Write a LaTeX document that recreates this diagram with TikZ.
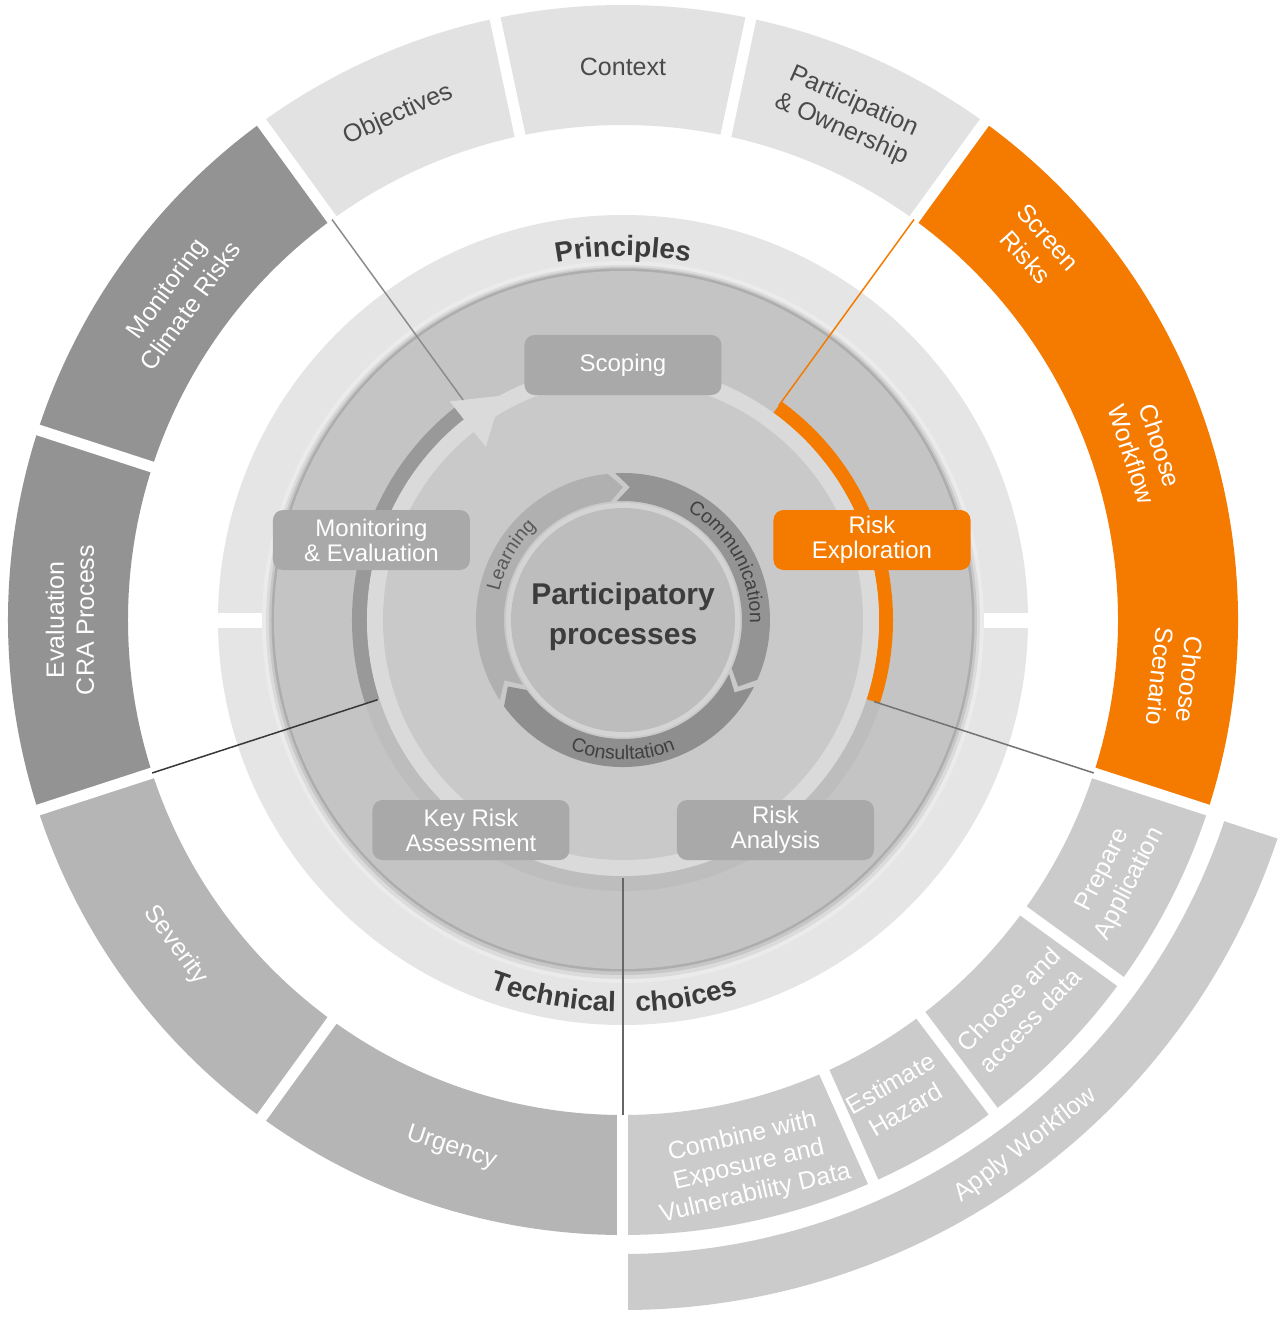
\documentclass[tikz,border=0pt]{standalone}
\usepackage{fontspec}
\setmainfont{Liberation Sans}
\usetikzlibrary{decorations.text}

\definecolor{orng}{HTML}{F47B00}
\definecolor{seglight}{HTML}{E2E2E2}
\definecolor{segdark}{HTML}{939393}
\definecolor{segmid}{HTML}{B5B5B5}
\definecolor{segpale}{HTML}{CBCBCB}
\definecolor{bandc}{HTML}{E5E5E5}
\definecolor{diskc}{HTML}{C4C4C4}
\definecolor{innerc}{HTML}{C9C9C9}
\definecolor{lightring}{HTML}{DADADA}
\definecolor{boxc}{HTML}{A9A9A9}
\definecolor{txtdark}{HTML}{4A4A4A}
\definecolor{ctext}{HTML}{3C3C3C}
\definecolor{arrL}{HTML}{B0B0B0}
\definecolor{arrC}{HTML}{949494}
\definecolor{arrS}{HTML}{8E8E8E}

\newcommand{\annsec}[5]{\fill[#5] (#1:#4) arc[start angle=#1, end angle=#2, radius=#4] -- (#2:#3) arc[start angle=#2, end angle=#1, radius=#3] -- cycle;}
\newcommand{\gapline}[3]{\draw[white, line width=11] (#1:#2) -- (#1:#3);}
\newcommand{\chev}[3]{\fill[#3] (#1:147) arc[start angle=#1, end angle=#2, radius=147] -- ({#2-6}:133) -- (#2:119) arc[start angle=#2, end angle=#1, radius=119] -- ({#1-6}:133) -- cycle;}

\tikzset{
  pbox/.style={rounded corners=10pt, fill=boxc, text=white, minimum width=197pt, minimum height=60pt, align=center, font=\fontsize{24}{25}\selectfont, inner sep=0pt},
  segtxt/.style={align=center, font=\fontsize{25}{30}\selectfont, text=white, inner sep=0pt},
  conn/.style={line width=1.5pt}
}

\begin{document}
\begin{tikzpicture}[x=1pt,y=1pt]
\useasboundingbox (-623,-698) rectangle (656,620);
\fill[white] (-623,-698) rectangle (656,620);

% ---- outer ring segments ----
\annsec{-90}{-18}{634}{690}{segpale}
\annsec{78}{102}{495}{615}{seglight}
\annsec{102}{126}{495}{615}{seglight}
\annsec{54}{78}{495}{615}{seglight}
\annsec{126}{162}{495}{615}{segdark}
\annsec{162}{198}{495}{615}{segdark}
\annsec{198}{234}{495}{615}{segmid}
\annsec{234}{270}{495}{615}{segmid}
\annsec{-18}{54}{495}{615}{orng}
\annsec{-36}{-18}{495}{615}{segpale}
\annsec{-53}{-36}{495}{615}{segpale}
\annsec{-66}{-53}{495}{615}{segpale}
\annsec{-90}{-66}{495}{615}{segpale}

\gapline{54}{494}{622}
\gapline{78}{494}{622}
\gapline{102}{494}{622}
\gapline{126}{494}{622}
\gapline{162}{494}{622}
\gapline{198}{494}{622}
\gapline{234}{494}{622}
\gapline{270}{494}{700}
\gapline{-18}{494}{700}
\gapline{-36}{494}{622}
\gapline{-53}{494}{622}
\gapline{-66}{494}{622}

% ---- principles / technical band ----
\fill[bandc] (0,0) circle (405);
\fill[white] (-410,-7.5) rectangle (410,7);

% shadow of main disk
\fill[black!8] (0,-2) circle (361);
\fill[black!14] (0,-2) circle (357);
\fill[black!22] (0,-1) circle (354);
\fill[black!32] (0,0) circle (351.5);
\fill[diskc] (0,0) circle (349);

% ring arcs
\annsec{198}{342}{256}{271}{black!26}
\annsec{128.4}{198}{256}{271}{black!40}
\annsec{-18}{54}{256}{270}{orng}

% light band and inner disk
\fill[lightring] (0,0) circle (256);
\fill[innerc] (0,0) circle (240);

% arrowhead of the process ring
\fill[lightring] (128.4:279) -- (118.4:255) -- (128.4:221) -- cycle;

% ---- inner cycle ----
\fill[black!17] (0,0) circle (117);
\fill[black!26] (0,0) circle (112);
\chev{213}{96}{arrL}
\chev{93}{-24}{arrC}
\chev{-27}{-144}{arrS}

\path[decorate, decoration={text along path, text align=center,
  text={|\fontsize{19.5}{19.5}\selectfont\color{black!65}|Learning}}]
  (178:127) arc[start angle=178, end angle=122, radius=127];
\path[decorate, decoration={text along path, text align=center,
  text={|\fontsize{19.5}{19.5}\selectfont\color{black!75}|Communication}}]
  (72:127) arc[start angle=72, end angle=-14, radius=127];
\path[decorate, decoration={text along path, text align=center,
  text={|\fontsize{19.5}{19.5}\selectfont\color{black!75}|Consultation}}]
  (236:140) arc[start angle=236, end angle=304, radius=140];

\node[font=\fontsize{30}{40}\selectfont\bfseries, text=ctext, align=center] (centre) at (0,3) {Participatory\\processes};

% ---- boxes ----
\node[pbox] (scoping) at (0,255) {Scoping};
\node[pbox] (monev) at (-251.5,80) {Monitoring\\\& Evaluation};
\node[pbox, fill=orng] (riskexp) at (249,80) {Risk\\Exploration};
\node[pbox] (keyrisk) at (-152,-210) {Key Risk\\Assessment};
\node[pbox] (riskan) at (152.5,-210) {Risk\\Analysis};

% ---- band titles ----
\path[decorate, decoration={text along path, text align=center,
  text={|\fontsize{28}{28}\selectfont\bfseries\color{ctext}|Principles}}]
  (110:364) arc[start angle=110, end angle=70, radius=364];
\path[decorate, decoration={text along path, text align=center,
  text={|\fontsize{28}{28}\selectfont\bfseries\color{ctext}|Technical}}]
  (-116:392) arc[start angle=-116, end angle=-85, radius=392];
\path[decorate, decoration={text along path, text align=center,
  text={|\fontsize{28}{28}\selectfont\bfseries\color{ctext}|choices}}]
  (-96:392) arc[start angle=-96, end angle=-65, radius=392];

% ---- segment texts ----
\node[segtxt, text=txtdark] (tContext) at (90:553) {Context};
\node[segtxt, text=txtdark, rotate=24] (tObj) at (114:553) {Objectives};
\node[segtxt, text=txtdark, rotate=-24] (tPart) at (66:552) {Participation\\\& Ownership};
\node[segtxt, rotate=54] (tMon) at (144:550) {Monitoring\\Climate Risks};
\node[segtxt, rotate=90] (tEval) at (180:553) {Evaluation\\CRA Process};
\node[segtxt, rotate=-54] (tSev) at (216:553) {Severity};
\node[segtxt, rotate=-18] (tUrg) at (252:555) {Urgency};
\node[segtxt, rotate=-48] (tScr) at (42:557) {Screen\\Risks};
\node[segtxt, rotate=-72] (tWf) at (18:550) {Choose\\Workflow};
\node[segtxt, rotate=-96] (tSc) at (-6:555) {Choose\\Scenario};
\node[segtxt, rotate=63] (tPrep) at (-27.5:557) {Prepare\\Application};
\node[segtxt, rotate=45.5] (tCh) at (-44.5:556) {Choose and\\access data};
\node[segtxt, rotate=30] (tEst) at (-60:550) {Estimate\\Hazard};
\node[segtxt, rotate=13, font=\fontsize{25}{29}\selectfont] (tComb) at (-77:560) {Combine with\\Exposure and\\Vulnerability Data};
\node[segtxt, rotate=37.5] (tApply) at (-52.5:662) {Apply Workflow};

% ---- connectors ----
\coordinate (a1) at (126:272); \coordinate (a2) at (126:495);
\coordinate (b1) at (54:265);  \coordinate (b2) at (54:495);
\coordinate (c1) at (-18:264); \coordinate (c2) at (-18:495);
\coordinate (d1) at (198:258); \coordinate (d2) at (198:495);
\coordinate (e1) at (270:258); \coordinate (e2) at (270:495);
\draw[conn, draw=black!45] (a1) -- (a2);
\draw[conn, draw=orng] (b1) -- (b2);
\draw[conn, draw=black!55] (c1) -- (c2);
\draw[conn, draw=black!78] (d1) -- (d2);
\draw[conn, draw=black!60] (e1) -- (e2);
\end{tikzpicture}
\end{document}
